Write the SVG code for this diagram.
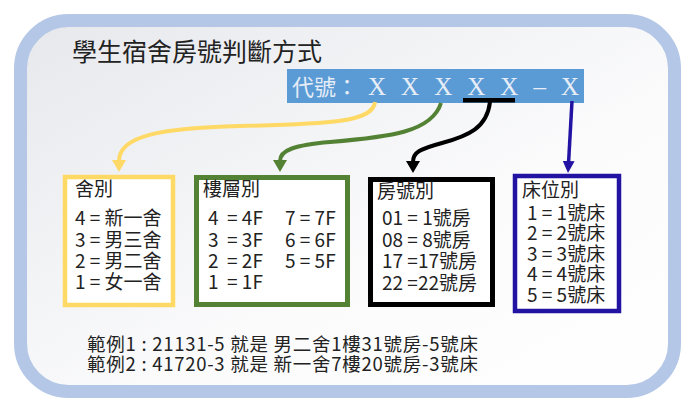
<svg xmlns="http://www.w3.org/2000/svg" width="686" height="399" viewBox="0 0 686 399">
<defs>
<style>
.cjk{font-family:"Noto Sans CJK TC","Noto Sans CJK SC",sans-serif;fill:#222}
.lbl{font-size:19px}
.box{fill:#fff}
.conn{fill:none;stroke-linecap:butt}
</style>
<linearGradient id="bg" x1="0" y1="0" x2="1" y2="1">
<stop offset="0" stop-color="#e6e8ec"/>
<stop offset="0.6" stop-color="#fbfbfc"/>
<stop offset="1" stop-color="#ffffff"/>
</linearGradient>
<marker id="ay" viewBox="0 0 12 14" refX="1" refY="7" markerWidth="12" markerHeight="14" markerUnits="userSpaceOnUse" orient="auto"><path d="M0,0 L12,7 L0,14 Z" fill="#ffd966"/></marker>
<marker id="ag" viewBox="0 0 12 14" refX="1" refY="7" markerWidth="12" markerHeight="14" markerUnits="userSpaceOnUse" orient="auto"><path d="M0,0 L12,7 L0,14 Z" fill="#548235"/></marker>
<marker id="ak" viewBox="0 0 12 14" refX="1" refY="7" markerWidth="12" markerHeight="14" markerUnits="userSpaceOnUse" orient="auto"><path d="M0,0 L12,7 L0,14 Z" fill="#000"/></marker>
<marker id="ab" viewBox="0 0 12 12" refX="1" refY="6" markerWidth="12" markerHeight="12" markerUnits="userSpaceOnUse" orient="auto"><path d="M0,0 L12,6 L0,12 Z" fill="#2313a3"/></marker>
</defs>
<rect width="686" height="399" fill="#fff"/>
<g id="frame">
<rect x="20.5" y="20.5" width="654" height="371" rx="48" fill="url(#bg)" stroke="#b4c7e7" stroke-width="13"/>
<text class="cjk" x="72" y="61" font-size="25" fill="#333">學生宿舍房號判斷方式</text>
</g>
<g id="code">
<rect x="287" y="69" width="297" height="34" fill="#5b9bd5"/>
<text x="292" y="95" font-family="Noto Sans CJK TC,sans-serif" font-size="22" fill="#e6edf7">代號：</text>
<text x="368" y="95" font-family="Liberation Serif,serif" font-size="25" fill="#e6edf7" textLength="211" lengthAdjust="spacing" style="white-space:pre">X X X X X – X</text>
<rect x="463" y="98" width="52" height="4.5" fill="#000"/>
</g>
<g id="connectors">
<path class="conn" d="M375,102 C373,122 330,124 240,126 C160,128 119,136 119,161" stroke="#ffd966" stroke-width="4" marker-end="url(#ay)"/>
<path class="conn" d="M441,103 C432,132 390,137 330,142 C295,145 280,150 280,161" stroke="#548235" stroke-width="4" marker-end="url(#ag)"/>
<path class="conn" d="M490,102 C487,128 468,136 442,143 C420,149 413,152 413,162" stroke="#000" stroke-width="4" marker-end="url(#ak)"/>
<path class="conn" d="M572,101 L568.6,162" stroke="#2313a3" stroke-width="3.5" marker-end="url(#ab)"/>
</g>
<g id="dorm">
<rect class="box" x="65" y="177" width="108" height="128" stroke="#ffd966" stroke-width="4.5"/>
<text class="cjk lbl" x="75" y="196">舍別</text>
<text class="cjk lbl" x="75" y="225">4 = 新一舍</text>
<text class="cjk lbl" x="75" y="247">3 = 男三舍</text>
<text class="cjk lbl" x="75" y="268">2 = 男二舍</text>
<text class="cjk lbl" x="75" y="289">1 = 女一舍</text>
</g>
<g id="floor">
<rect class="box" x="196.5" y="177.5" width="151" height="127" stroke="#548235" stroke-width="5"/>
<text class="cjk lbl" x="203" y="196">樓層別</text>
<text class="cjk lbl" x="208" y="225" style="white-space:pre">4  = 4F</text>
<text class="cjk lbl" x="208" y="247" style="white-space:pre">3  = 3F</text>
<text class="cjk lbl" x="208" y="268" style="white-space:pre">2  = 2F</text>
<text class="cjk lbl" x="208" y="289" style="white-space:pre">1  = 1F</text>
<text class="cjk lbl" x="285" y="225">7 = 7F</text>
<text class="cjk lbl" x="285" y="247">6 = 6F</text>
<text class="cjk lbl" x="285" y="268">5 = 5F</text>
</g>
<g id="room">
<rect class="box" x="370.5" y="179.5" width="122" height="125" stroke="#000" stroke-width="5"/>
<text class="cjk lbl" x="377" y="198">房號別</text>
<text class="cjk lbl" x="382" y="225">01 = 1號房</text>
<text class="cjk lbl" x="382" y="247">08 = 8號房</text>
<text class="cjk lbl" x="382" y="268">17 =17號房</text>
<text class="cjk lbl" x="382" y="290">22 =22號房</text>
</g>
<g id="bed">
<rect class="box" x="515" y="176" width="104" height="135" stroke="#2313a3" stroke-width="4.5"/>
<text class="cjk lbl" x="522" y="197">床位別</text>
<text class="cjk lbl" x="527" y="220">1 = 1號床</text>
<text class="cjk lbl" x="527" y="240">2 = 2號床</text>
<text class="cjk lbl" x="527" y="261">3 = 3號床</text>
<text class="cjk lbl" x="527" y="281">4 = 4號床</text>
<text class="cjk lbl" x="527" y="302">5 = 5號床</text>
</g>
<g id="examples">
<text class="cjk" x="87" y="351" font-size="18.5" textLength="391" lengthAdjust="spacing">範例1 : 21131-5 就是 男二舍1樓31號房-5號床</text>
<text class="cjk" x="87" y="371" font-size="18.5" textLength="391" lengthAdjust="spacing">範例2 : 41720-3 就是 新一舍7樓20號房-3號床</text>
</g>
</svg>
